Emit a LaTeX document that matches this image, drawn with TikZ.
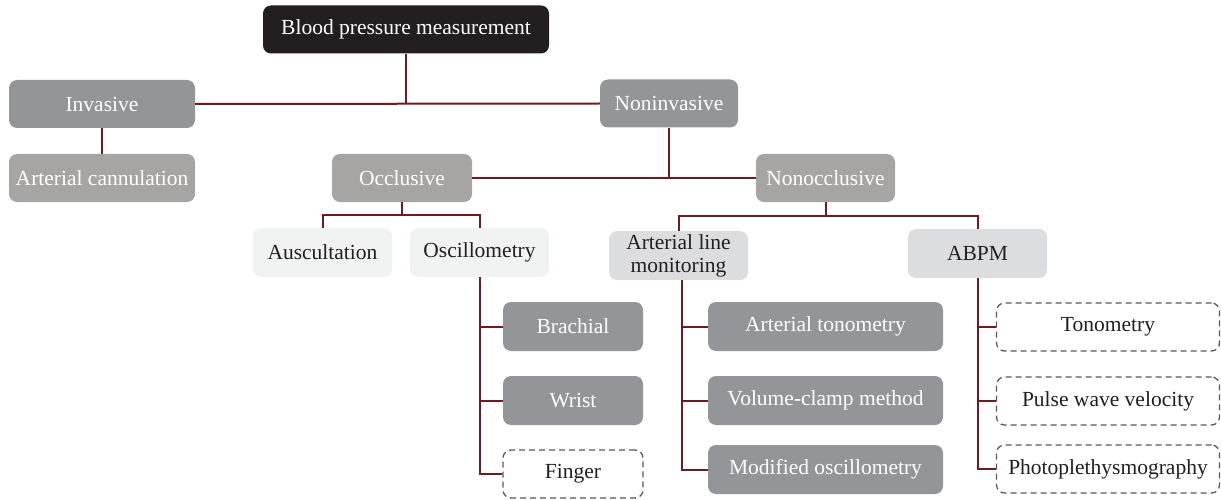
\documentclass[tikz,border=0pt]{standalone}
\usepackage{fontspec}
\setmainfont{Liberation Serif}
\definecolor{cblack}{HTML}{231F20}
\definecolor{cdark}{HTML}{939598}
\definecolor{cwarm}{HTML}{A7A5A3}
\definecolor{clight}{HTML}{DCDDDF}
\definecolor{cpale}{HTML}{F1F2F2}
\definecolor{cline}{HTML}{6D1A22}
\definecolor{cdash}{HTML}{58595B}
\definecolor{ctext}{HTML}{231F20}
\begin{document}
\begin{tikzpicture}[x=1pt,y=-1pt,
  bx/.style={rounded corners=8pt, inner sep=0pt, align=center, font=\fontsize{21.5}{23}\selectfont, minimum height=48pt},
  wd/.style={minimum width=#1},
  rootbox/.style={bx, fill=cblack, text=white},
  darkbox/.style={bx, fill=cdark, text=white},
  warmbox/.style={bx, fill=cwarm, text=white},
  lightbox/.style={bx, fill=clight, text=ctext},
  palebox/.style={bx, fill=cpale, text=ctext},
  dashbox/.style={bx, fill=white, draw=cdash, dash pattern=on 6pt off 4pt, line width=1.3pt, text=ctext},
  conn/.style={draw=cline, line width=2pt}
]
\useasboundingbox (0,0) rectangle (1221,500);
% level 0
\node[rootbox, wd=286pt] (root) at (406,29.5) {Blood pressure measurement};
% level 1
\node[darkbox, wd=186pt] (inv) at (102,104) {Invasive};
\node[darkbox, wd=138pt] (noninv) at (669,103.5) {Noninvasive};
\node[warmbox, wd=186pt] (cann) at (102,178) {Arterial cannulation};
% level 2
\node[warmbox, wd=140pt] (occ) at (402,178) {Occlusive};
\node[warmbox, wd=139pt] (nonocc) at (825.5,178) {Nonocclusive};
% level 3
\node[palebox, wd=139pt, minimum height=49pt] (ausc) at (322.5,252.5) {Auscultation};
\node[palebox, wd=139pt, minimum height=49pt] (osc) at (479.5,252.5) {Oscillometry};
\node[lightbox, wd=139pt, minimum height=49pt, font=\fontsize{21.5}{23}\selectfont] (alm) at (678.5,255.5) {Arterial line\\monitoring};
\node[lightbox, wd=139pt, minimum height=49pt] (abpm) at (977.5,253.5) {ABPM};
% level 4
\node[darkbox, wd=140pt, minimum height=49pt] (brach) at (573,326.5) {Brachial};
\node[darkbox, wd=140pt, minimum height=49pt] (wrist) at (573,400.5) {Wrist};
\node[dashbox, wd=140pt] (finger) at (573,474) {Finger};
\node[darkbox, wd=235pt, minimum height=49pt] (aton) at (825.5,326.5) {Arterial tonometry};
\node[darkbox, wd=235pt, minimum height=49pt] (vcm) at (825.5,400.5) {Volume-clamp method};
\node[darkbox, wd=235pt, minimum height=49pt] (mosc) at (825.5,469.5) {Modified oscillometry};
\node[dashbox, wd=223pt] (ton) at (1108,327) {Tonometry};
\node[dashbox, wd=223pt] (pwv) at (1108,401) {Pulse wave velocity};
\node[dashbox, wd=223pt] (ppg) at (1108,469) {Photoplethysmography};
% junction coordinates
\coordinate (j0) at (root.south |- inv.east);
\coordinate (j1) at (noninv.south |- occ.east);
\coordinate (j2) at ([yshift=-13pt]occ.south);
\coordinate (j3) at ([yshift=-14pt]nonocc.south);
% connectors
\draw[conn] (inv.east) -- (noninv.west);
\draw[conn] (root.south) -- (j0);
\draw[conn] (inv.south) -- (cann.north);
\draw[conn] (occ.east) -- (nonocc.west);
\draw[conn] (noninv.south) -- (j1);
\draw[conn] (occ.south) -- (j2);
\draw[conn] (ausc.north) -- (ausc.north |- j2) -- (osc.north |- j2) -- (osc.north);
\draw[conn] (nonocc.south) -- (j3);
\draw[conn] (alm.north) -- (alm.north |- j3) -- (abpm.north |- j3) -- (abpm.north);
% oscillometry children
\draw[conn] (osc.south) -- (osc.south |- finger.west) -- (finger.west);
\draw[conn] (osc.south |- brach.west) -- (brach.west);
\draw[conn] (osc.south |- wrist.west) -- (wrist.west);
% arterial line monitoring children
\draw[conn] ([xshift=3pt]alm.south) -- ([xshift=3pt]alm.south |- mosc.west) -- (mosc.west);
\draw[conn] ([xshift=3pt]alm.south |- aton.west) -- (aton.west);
\draw[conn] ([xshift=3pt]alm.south |- vcm.west) -- (vcm.west);
% ABPM children
\draw[conn] (abpm.south) -- (abpm.south |- ppg.west) -- (ppg.west);
\draw[conn] (abpm.south |- ton.west) -- (ton.west);
\draw[conn] (abpm.south |- pwv.west) -- (pwv.west);
\end{tikzpicture}
\end{document}
